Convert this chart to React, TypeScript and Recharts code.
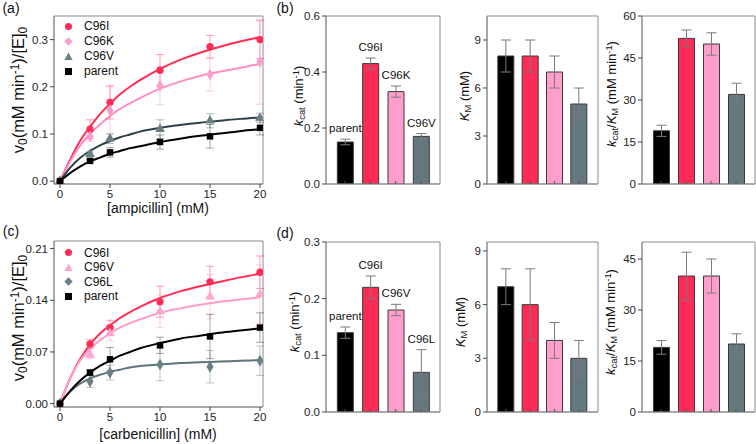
import React from "react";
import {
  ComposedChart,
  BarChart,
  Bar,
  Line,
  Scatter,
  XAxis,
  YAxis,
  ZAxis,
  ErrorBar,
  Cell,
  LabelList,
  CartesianGrid,
} from "recharts";

const FONT = "'Liberation Sans', Arial, sans-serif";

// ---- kinetics data (a) ampicillin, (c) carbenicillin ----
const conc = [0, 3, 5, 10, 15, 20];
const fitX = [0, 1, 2, 3, 4, 5, 6, 7, 8, 10, 12, 14, 16, 18, 20];

const ampC96I = [0, 0.11, 0.167, 0.235, 0.285, 0.3];
const ampC96IErr = [0, 0.02, 0.035, 0.033, 0.024, 0.04];
const ampC96IFit = [0, 0.045, 0.085, 0.115, 0.142, 0.164, 0.184, 0.2, 0.214, 0.238, 0.257, 0.272, 0.285, 0.296, 0.305];

const ampC96K = [0, 0.095, 0.15, 0.202, 0.226, 0.253];
const ampC96KErr = [0, 0.01, 0.05, 0.04, 0.035, 0.09];
const ampC96KFit = [0, 0.041, 0.075, 0.1, 0.12, 0.138, 0.153, 0.165, 0.176, 0.196, 0.211, 0.223, 0.232, 0.24, 0.249];

const ampC96V = [0, 0.057, 0.09, 0.11, 0.128, 0.134];
const ampC96VErr = [0, 0.005, 0.01, 0.02, 0.015, 0.01];
const ampC96VFit = [0, 0.028, 0.049, 0.064, 0.076, 0.085, 0.093, 0.099, 0.105, 0.113, 0.119, 0.124, 0.128, 0.132, 0.135];

const ampParent = [0, 0.043, 0.061, 0.083, 0.095, 0.113];
const ampParentErr = [0, 0.004, 0.01, 0.015, 0.025, 0.015];
const ampParentFit = [0, 0.017, 0.031, 0.042, 0.05, 0.058, 0.064, 0.07, 0.074, 0.083, 0.09, 0.096, 0.101, 0.106, 0.11];

const carC96I = [0, 0.081, 0.103, 0.138, 0.165, 0.178];
const carC96IErr = [0, 0.006, 0.01, 0.021, 0.021, 0.022];
const carC96IFit = [0, 0.034, 0.06, 0.08, 0.095, 0.106, 0.116, 0.124, 0.131, 0.143, 0.152, 0.159, 0.165, 0.171, 0.176];

const carC96V = [0, 0.066, 0.095, 0.125, 0.145, 0.148];
const carC96VErr = [0, 0.005, 0.01, 0.022, 0.03, 0.04];
const carC96VFit = [0, 0.034, 0.058, 0.074, 0.086, 0.095, 0.103, 0.109, 0.114, 0.123, 0.129, 0.134, 0.138, 0.141, 0.144];

const carC96L = [0, 0.03, 0.042, 0.053, 0.05, 0.058];
const carC96LErr = [0, 0.008, 0.01, 0.022, 0.022, 0.02];
const carC96LFit = [0, 0.016, 0.027, 0.034, 0.039, 0.043, 0.046, 0.049, 0.051, 0.053, 0.055, 0.056, 0.057, 0.058, 0.059];

const carParent = [0, 0.042, 0.06, 0.079, 0.091, 0.103];
const carParentErr = [0, 0.004, 0.016, 0.011, 0.03, 0.02];
const carParentFit = [0, 0.017, 0.031, 0.042, 0.051, 0.058, 0.065, 0.07, 0.075, 0.082, 0.088, 0.092, 0.096, 0.099, 0.102];

// ---- kinetic parameters (b) and (d) ----
const ampNames = ["parent", "C96I", "C96K", "C96V"];
const ampKcat = [0.15, 0.43, 0.33, 0.17];
const ampKcatErr = [0.01, 0.02, 0.02, 0.01];
const ampKm = [8, 8, 7, 5];
const ampKmErr = [1, 1, 1, 1];
const ampEff = [19, 52, 50, 32];
const ampEffErr = [2, 3, 4, 4];

const carNames = ["parent", "C96I", "C96V", "C96L"];
const carKcat = [0.14, 0.22, 0.18, 0.07];
const carKcatErr = [0.01, 0.02, 0.01, 0.04];
const carKm = [7, 6, 4, 3];
const carKmErr = [1, 2, 1, 1];
const carEff = [19, 40, 40, 20];
const carEffErr = [2, 7, 5, 3];

const BAR_COLORS = ["#000000", "#ff2a55", "#ff9dcc", "#66787f"];

const RED = "#ff2d55";
const PINK = "#ff9ccb";
const GREY = "#6b7f87";

const toPts = (xs: number[], ys: number[], es?: number[]) =>
  xs.map((x, i) => ({ x, y: ys[i], err: es ? es[i] : 0 }));

type Series = {
  name: string;
  color: string;
  line: string;
  err: string;
  shape: "circle" | "diamond" | "triangle" | "square";
  ys: number[];
  es: number[];
  fit: number[];
};

const ampSeries: Series[] = [
  { name: "C96I", color: RED, line: RED, err: "rgba(255,45,85,0.45)", shape: "circle", ys: ampC96I, es: ampC96IErr, fit: ampC96IFit },
  { name: "C96K", color: PINK, line: "#ff8fc2", err: "rgba(255,140,190,0.45)", shape: "diamond", ys: ampC96K, es: ampC96KErr, fit: ampC96KFit },
  { name: "C96V", color: GREY, line: "#2c4248", err: "rgba(90,110,118,0.45)", shape: "triangle", ys: ampC96V, es: ampC96VErr, fit: ampC96VFit },
  { name: "parent", color: "#000", line: "#000", err: "rgba(0,0,0,0.35)", shape: "square", ys: ampParent, es: ampParentErr, fit: ampParentFit },
];

const carSeries: Series[] = [
  { name: "C96I", color: RED, line: RED, err: "rgba(255,45,85,0.45)", shape: "circle", ys: carC96I, es: carC96IErr, fit: carC96IFit },
  { name: "C96V", color: "#ffa6cf", line: "#ff9cc9", err: "rgba(255,150,200,0.45)", shape: "triangle", ys: carC96V, es: carC96VErr, fit: carC96VFit },
  { name: "C96L", color: GREY, line: "#5f747b", err: "rgba(90,110,118,0.4)", shape: "diamond", ys: carC96L, es: carC96LErr, fit: carC96LFit },
  { name: "parent", color: "#000", line: "#000", err: "rgba(0,0,0,0.35)", shape: "square", ys: carParent, es: carParentErr, fit: carParentFit },
];

const AX = "#8a8a8a";
const TICK = { fill: "#222", fontSize: 11.5, fontFamily: FONT };

// frame around the plot area, drawn by the grid from the chart's own offset
const frameH = ({ offset }: any) => [offset.top, offset.top + offset.height];
const frameV = ({ offset }: any) => [offset.left, offset.left + offset.width];

function Marker({ shape, color }: { shape: string; color: string }) {
  return (
    <svg width={9} height={9} style={{ display: "block" }}>
      {shape === "circle" && <circle cx={4.5} cy={4.5} r={3.6} fill={color} />}
      {shape === "square" && <rect x={1} y={1} width={7} height={7} fill={color} />}
      {shape === "triangle" && <polygon points="4.5,0.5 8.6,8 0.4,8" fill={color} />}
      {shape === "diamond" && <polygon points="4.5,0.3 8.7,4.5 4.5,8.7 0.3,4.5" fill={color} />}
    </svg>
  );
}

function Abs({ x, y, size = 14, rotate = false, children }: any) {
  return (
    <div
      style={{
        position: "absolute",
        left: x,
        top: y,
        transform: `translate(-50%, -50%)${rotate ? " rotate(-90deg)" : ""}`,
        whiteSpace: "nowrap",
        fontSize: size,
        lineHeight: 1,
        color: "#111",
      }}
    >
      {children}
    </div>
  );
}

const sub = { fontSize: "0.72em", verticalAlign: "-0.25em" } as const;
const sup = { fontSize: "0.72em", verticalAlign: "0.45em" } as const;

function KineticsPanel({
  top,
  boxH,
  series,
  yDomain,
  yTicks,
  digits,
  legendTop,
  legendStep,
}: {
  top: number;
  boxH: number;
  series: Series[];
  yDomain: [number, number];
  yTicks: number[];
  digits: number;
  legendTop: number;
  legendStep: number;
}) {
  const boxLeft = 54;
  const boxW = 209;
  const mTop = 16;
  return (
    <>
      <div style={{ position: "absolute", left: 0, top: top }}>
        <ComposedChart
          width={boxLeft + boxW + 6}
          height={mTop + boxH + 31}
          margin={{ top: mTop, right: 6, left: 0, bottom: 0 }}
        >
          <CartesianGrid
            stroke={AX}
            horizontalCoordinatesGenerator={frameH}
            verticalCoordinatesGenerator={frameV}
          />
          <XAxis
            dataKey="x"
            type="number"
            domain={[-0.6, 20.3]}
            ticks={[0, 5, 10, 15, 20]}
            interval={0}
            allowDataOverflow
            height={31}
            tick={TICK}
            tickSize={4}
            axisLine={{ stroke: AX }}
            tickLine={{ stroke: "#444" }}
          />
          <YAxis
            type="number"
            domain={yDomain}
            ticks={yTicks}
            interval={0}
            allowDataOverflow
            width={boxLeft}
            tick={TICK}
            tickSize={4}
            tickFormatter={(v: number) => v.toFixed(digits)}
            axisLine={{ stroke: AX }}
            tickLine={{ stroke: "#444" }}
          />
          <ZAxis range={[42, 42]} />
          {series.map((s) => (
            <Line
              key={s.name + "-fit"}
              data={toPts(fitX, s.fit)}
              dataKey="y"
              type="monotone"
              stroke={s.line}
              strokeWidth={2}
              dot={false}
              activeDot={false}
              isAnimationActive={false}
            />
          ))}
          {series.map((s) => (
            <Scatter
              key={s.name}
              data={toPts(conc, s.ys, s.es)}
              dataKey="y"
              fill={s.color}
              shape={s.shape}
              isAnimationActive={false}
            >
              <ErrorBar dataKey="err" direction="y" width={4} stroke={s.err} strokeWidth={1} />
            </Scatter>
          ))}
        </ComposedChart>
      </div>
      <div style={{ position: "absolute", left: 64, top: legendTop }}>
        {series.map((s, i) => (
          <div
            key={s.name}
            style={{
              position: "absolute",
              top: i * legendStep,
              left: 0,
              display: "flex",
              alignItems: "center",
              whiteSpace: "nowrap",
              fontSize: 12,
              lineHeight: "14px",
              color: "#111",
            }}
          >
            <Marker shape={s.shape} color={s.color} />
            <span style={{ marginLeft: 11 }}>{s.name}</span>
          </div>
        ))}
      </div>
    </>
  );
}

function BarPanel({
  boxLeft,
  boxTop,
  boxW,
  boxH,
  domain,
  ticks,
  digits,
  names,
  vals,
  errs,
  showLabels,
}: {
  boxLeft: number;
  boxTop: number;
  boxW: number;
  boxH: number;
  domain: [number, number];
  ticks: number[];
  digits: number;
  names: string[];
  vals: number[];
  errs: number[];
  showLabels?: boolean;
}) {
  const data = names.map((n, i) => ({ name: n, v: vals[i], err: errs[i] }));
  const pad = Math.max(0, (19 - boxW / 8) / 0.75);
  const yw = 30;
  const bottom = 10;
  const renderLabel = (props: any) => {
    const vb = props.viewBox ?? props;
    const x = vb.x ?? props.x;
    const y = vb.y ?? props.y;
    const w = vb.width ?? props.width;
    const h = vb.height ?? props.height;
    const idx = props.index;
    const errPx = h && vals[idx] ? (errs[idx] * h) / vals[idx] : 0;
    return (
      <text
        x={x + w / 2}
        y={y - errPx - 7}
        textAnchor="middle"
        fontSize={11.5}
        fontFamily={FONT}
        fill="#111"
      >
        {props.value}
      </text>
    );
  };
  return (
    <div style={{ position: "absolute", left: boxLeft - yw, top: boxTop - 8 }}>
      <BarChart
        width={yw + boxW + 3}
        height={8 + boxH + bottom}
        data={data}
        margin={{ top: 8, right: 3, left: 0, bottom: 0 }}
      >
        <CartesianGrid
          stroke={AX}
          horizontalCoordinatesGenerator={frameH}
          verticalCoordinatesGenerator={frameV}
        />
        <XAxis
          dataKey="name"
          height={bottom}
          padding={{ left: pad, right: pad }}
          tickFormatter={() => ""}
          tickSize={-3}
          axisLine={{ stroke: AX }}
          tickLine={{ stroke: "#555" }}
        />
        <YAxis
          type="number"
          domain={domain}
          ticks={ticks}
          interval={0}
          allowDataOverflow
          width={yw}
          tick={TICK}
          tickSize={4}
          tickFormatter={(v: number) => v.toFixed(digits)}
          axisLine={{ stroke: AX }}
          tickLine={{ stroke: "#444" }}
        />
        <Bar dataKey="v" barSize={16} stroke="#3a3a3a" strokeWidth={1} isAnimationActive={false}>
          {data.map((d, i) => (
            <Cell key={d.name} fill={BAR_COLORS[i]} />
          ))}
          <ErrorBar dataKey="err" direction="y" width={5} stroke="#7a7a7a" strokeWidth={1} />
          {showLabels && <LabelList dataKey="name" content={renderLabel} />}
        </Bar>
      </BarChart>
    </div>
  );
}

const KcatLabel = () => (
  <span>
    <i>k</i>
    <span style={sub}>cat</span> (min<span style={sup}>-1</span>)
  </span>
);
const KmLabel = () => (
  <span>
    <i>K</i>
    <span style={sub}>M</span> (mM)
  </span>
);
const EffLabel = () => (
  <span>
    <i>k</i>
    <span style={sub}>cat</span>/<i>K</i>
    <span style={sub}>M</span> (mM min<span style={sup}>-1</span>)
  </span>
);
const V0Label = () => (
  <span>
    v<span style={sub}>0</span>(mM min<span style={sup}>-1</span>)/[E]<span style={sub}>0</span>
  </span>
);

export default function App() {
  return (
    <div
      style={{
        position: "absolute",
        left: 0,
        top: 0,
        width: 756,
        height: 444,
        background: "#fff",
        fontFamily: FONT,
        overflow: "hidden",
      }}
    >
      <KineticsPanel
        top={0}
        boxH={168}
        series={ampSeries}
        yDomain={[-0.006, 0.35]}
        yTicks={[0, 0.1, 0.2, 0.3]}
        digits={1}
        legendTop={19}
        legendStep={15}
      />
      <KineticsPanel
        top={225}
        boxH={166}
        series={carSeries}
        yDomain={[-0.0046, 0.2203]}
        yTicks={[0, 0.07, 0.14, 0.21]}
        digits={2}
        legendTop={245.5}
        legendStep={14.5}
      />

      <BarPanel boxLeft={326} boxTop={16} boxW={114} boxH={168} domain={[0, 0.6]} ticks={[0, 0.2, 0.4, 0.6]} digits={1} names={ampNames} vals={ampKcat} errs={ampKcatErr} showLabels />
      <BarPanel boxLeft={487} boxTop={16} boxW={111} boxH={168} domain={[0, 10.5]} ticks={[0, 3, 6, 9]} digits={0} names={ampNames} vals={ampKm} errs={ampKmErr} />
      <BarPanel boxLeft={642} boxTop={16} boxW={113} boxH={168} domain={[0, 60]} ticks={[0, 15, 30, 45, 60]} digits={0} names={ampNames} vals={ampEff} errs={ampEffErr} />

      <BarPanel boxLeft={326} boxTop={242} boxW={114} boxH={170} domain={[0, 0.3]} ticks={[0, 0.1, 0.2, 0.3]} digits={1} names={carNames} vals={carKcat} errs={carKcatErr} showLabels />
      <BarPanel boxLeft={487} boxTop={242} boxW={111} boxH={170} domain={[0, 9.5]} ticks={[0, 3, 6, 9]} digits={0} names={carNames} vals={carKm} errs={carKmErr} />
      <BarPanel boxLeft={642} boxTop={242} boxW={113} boxH={170} domain={[0, 50]} ticks={[0, 15, 30, 45]} digits={0} names={carNames} vals={carEff} errs={carEffErr} />

      {/* panel letters */}
      <Abs x={11} y={8} size={14}>(a)</Abs>
      <Abs x={285} y={8} size={14}>(b)</Abs>
      <Abs x={11} y={231} size={14}>(c)</Abs>
      <Abs x={285} y={233} size={14}>(d)</Abs>

      {/* axis titles */}
      <Abs x={158} y={208} size={14}>[ampicillin] (mM)</Abs>
      <Abs x={158} y={434} size={14}>[carbenicillin] (mM)</Abs>
      <Abs x={20} y={90} size={16.5} rotate><V0Label /></Abs>
      <Abs x={20} y={318} size={16.5} rotate><V0Label /></Abs>

      <Abs x={300} y={96} size={13} rotate><KcatLabel /></Abs>
      <Abs x={466} y={96} size={13} rotate><KmLabel /></Abs>
      <Abs x={613} y={94} size={13} rotate><EffLabel /></Abs>
      <Abs x={296} y={322} size={13} rotate><KcatLabel /></Abs>
      <Abs x={462} y={322} size={13} rotate><KmLabel /></Abs>
      <Abs x={612} y={322} size={13} rotate><EffLabel /></Abs>
    </div>
  );
}
